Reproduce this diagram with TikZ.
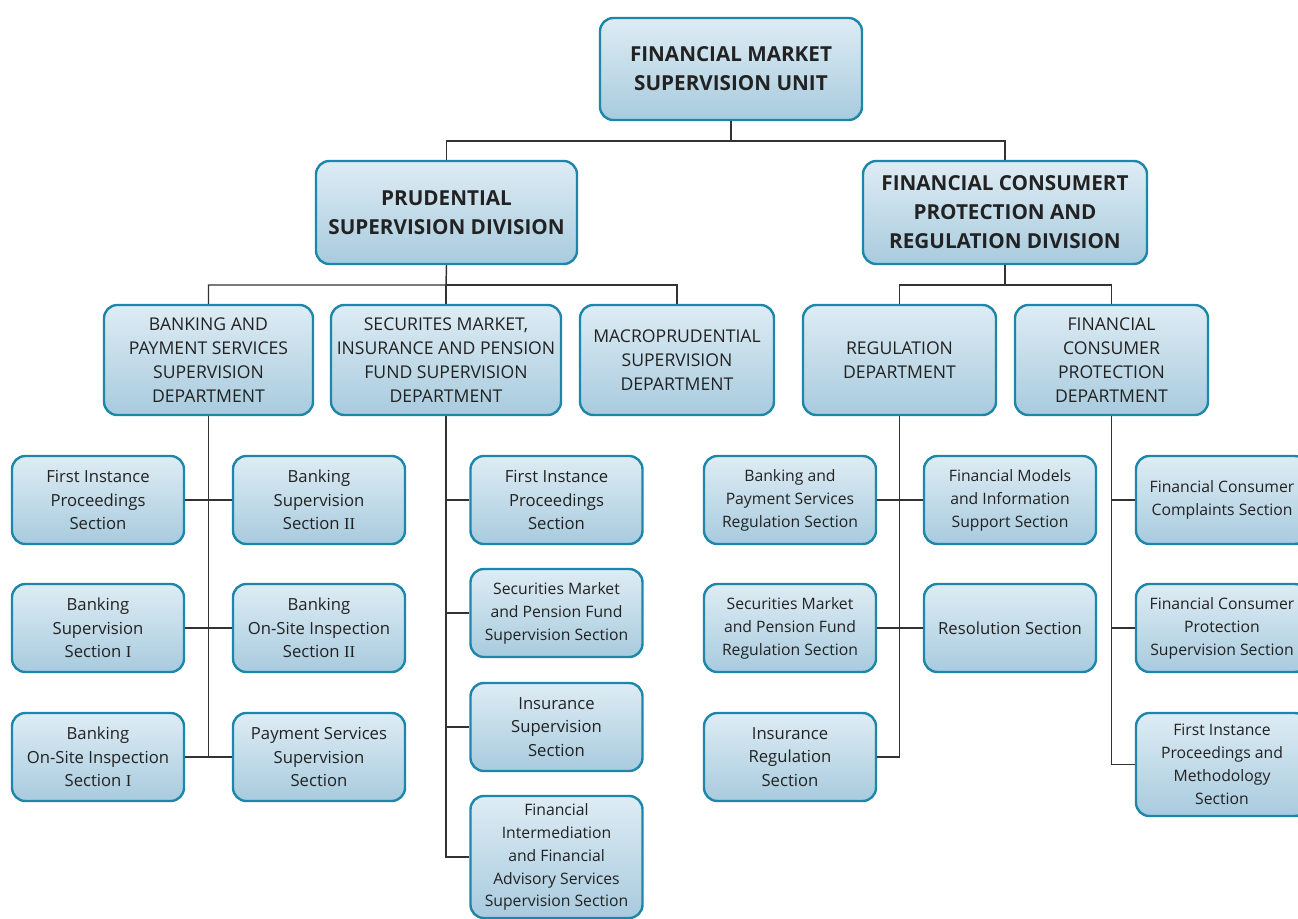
\documentclass[tikz,border=0pt]{standalone}
\usepackage{fontspec}
\setmainfont{Open Sans}
\newfontfamily\romfont{Liberation Serif}
\newcommand{\romII}{{\romfont II}}
\newcommand{\romI}{{\romfont I}}
\definecolor{boxtop}{HTML}{DEECF4}
\definecolor{boxbot}{HTML}{A8CBDE}
\definecolor{boxline}{HTML}{1D87AA}
\definecolor{textgray}{HTML}{222222}
\definecolor{linegray}{HTML}{333333}

\begin{document}
\begin{tikzpicture}[x=0.75pt, y=-0.75pt,
  box/.style={draw=boxline, line width=1.8pt, rounded corners=10pt,
    top color=boxtop, bottom color=boxbot, align=center, text=textgray,
    inner sep=0pt, font=\fontsize{12.5}{17.5}\selectfont},
  small/.style={box, font=\fontsize{11.8}{17.2}\selectfont},
  dept/.style={box, font=\fontsize{13.2}{18}\selectfont},
  head/.style={box, font=\fontsize{15.5}{21.8}\selectfont\bfseries},
  sz/.style 2 args={minimum width=#1*0.75pt, minimum height=#2*0.75pt},
  conn/.style={draw=linegray, line width=1.1pt}]
  \clip (0, 0) rectangle (1298, 918);
  \fill[white] (0, 0) rectangle (1298, 918);

  % top and divisions
  \node[head, sz={262}{102}] (unit) at (731, 69) {FINANCIAL MARKET\\SUPERVISION UNIT};
  \node[head, sz={261}{103}] (prud) at (446.5, 212.5) {PRUDENTIAL\\SUPERVISION DIVISION};
  \node[head, sz={284}{103}] (cons) at (1005, 212.5) {FINANCIAL CONSUMERT\\PROTECTION AND\\REGULATION DIVISION};

  % departments
  \node[dept, sz={209}{110}] (bank) at (208.5, 360) {BANKING AND\\PAYMENT SERVICES\\SUPERVISION\\DEPARTMENT};
  \node[dept, sz={230}{110}] (secu) at (446, 360) {SECURITES MARKET,\\INSURANCE AND PENSION\\FUND SUPERVISION\\DEPARTMENT};
  \node[dept, sz={194}{110}] (macro) at (677, 360) {MACROPRUDENTIAL\\SUPERVISION\\DEPARTMENT};
  \node[dept, sz={193}{110}] (regu) at (899.5, 360) {REGULATION\\DEPARTMENT};
  \node[dept, sz={193}{110}] (fcpd) at (1111.5, 360) {FINANCIAL\\CONSUMER\\PROTECTION\\DEPARTMENT};

  % banking sections
  \node[box, sz={172}{88}] (b1) at (98, 500) {First Instance\\Proceedings\\Section};
  \node[box, sz={172}{88}] (b2) at (319, 500) {Banking\\Supervision\\Section \romII};
  \node[box, sz={172}{88}] (b3) at (98, 628) {Banking\\Supervision\\Section \romI};
  \node[box, sz={172}{88}] (b4) at (319, 628) {Banking\\On-Site Inspection\\Section \romII};
  \node[box, sz={172}{88}] (b5) at (98, 757) {Banking\\On-Site Inspection\\Section \romI};
  \node[box, sz={172}{88}] (b6) at (319, 757) {Payment Services\\Supervision\\Section};

  % securities sections
  \node[box, sz={172}{88}] (c1) at (556.5, 500) {First Instance\\Proceedings\\Section};
  \node[small, sz={172}{88}] (c2) at (556.5, 613) {Securities Market\\and Pension Fund\\Supervision Section};
  \node[box, sz={172}{88}] (c3) at (556.5, 727) {Insurance\\Supervision\\Section};
  \node[small, sz={172}{122}] (c4) at (556.5, 857) {Financial\\Intermediation\\and Financial\\Advisory Services\\Supervision Section};

  % regulation sections
  \node[small, sz={172}{88}] (r1) at (790, 500) {Banking and\\Payment Services\\Regulation Section};
  \node[small, sz={172}{88}] (r2) at (1010, 500) {Financial Models\\and Information\\Support Section};
  \node[small, sz={172}{88}] (r3) at (790, 628) {Securities Market\\and Pension Fund\\Regulation Section};
  \node[box, sz={172}{88}] (r4) at (1010, 628) {Resolution Section};
  \node[box, sz={172}{88}] (r5) at (790, 757) {Insurance\\Regulation\\Section};

  % consumer protection sections
  \node[small, sz={172}{88}] (f1) at (1222, 500) {Financial Consumer\\Complaints Section};
  \node[small, sz={172}{88}] (f2) at (1222, 628) {Financial Consumer\\Protection\\Supervision Section};
  \node[small, sz={172}{103}] (f3) at (1222, 764.5) {First Instance\\Proceedings and\\Methodology\\Section};

  % connectors
  \coordinate (bus0) at (731, 141);
  \coordinate (bus1) at (446, 285);
  \coordinate (bus2) at (1005, 285);
  \draw[conn] (unit.south) -- (bus0) -| (prud.north);
  \draw[conn] (bus0) -| (cons.north);
  \draw[conn] (prud.south) -- (bus1) -| (bank.north);
  \draw[conn] (bus1) -| (macro.north);
  \draw[conn] (bus1) -- (secu.north);
  \draw[conn] (cons.south) -- (bus2) -| (regu.north);
  \draw[conn] (bus2) -| (fcpd.north);

  \draw[conn] (bank.south) -- (bank.south |- b5.east);
  \draw[conn] (b1.east) -- (b2.west);
  \draw[conn] (b3.east) -- (b4.west);
  \draw[conn] (b5.east) -- (b6.west);

  \draw[conn] (secu.south) -- (secu.south |- c4.west) -- (c4.west);
  \draw[conn] (secu.south |- c1.west) -- (c1.west);
  \draw[conn] (secu.south |- c2.west) -- (c2.west);
  \draw[conn] (secu.south |- c3.west) -- (c3.west);

  \draw[conn] (regu.south) -- (regu.south |- r5.east) -- (r5.east);
  \draw[conn] (r1.east) -- (r2.west);
  \draw[conn] (r3.east) -- (r4.west);

  \draw[conn] (fcpd.south) -- (fcpd.south |- f3.west) -- (f3.west);
  \draw[conn] (fcpd.south |- f1.west) -- (f1.west);
  \draw[conn] (fcpd.south |- f2.west) -- (f2.west);
\end{tikzpicture}
\end{document}
